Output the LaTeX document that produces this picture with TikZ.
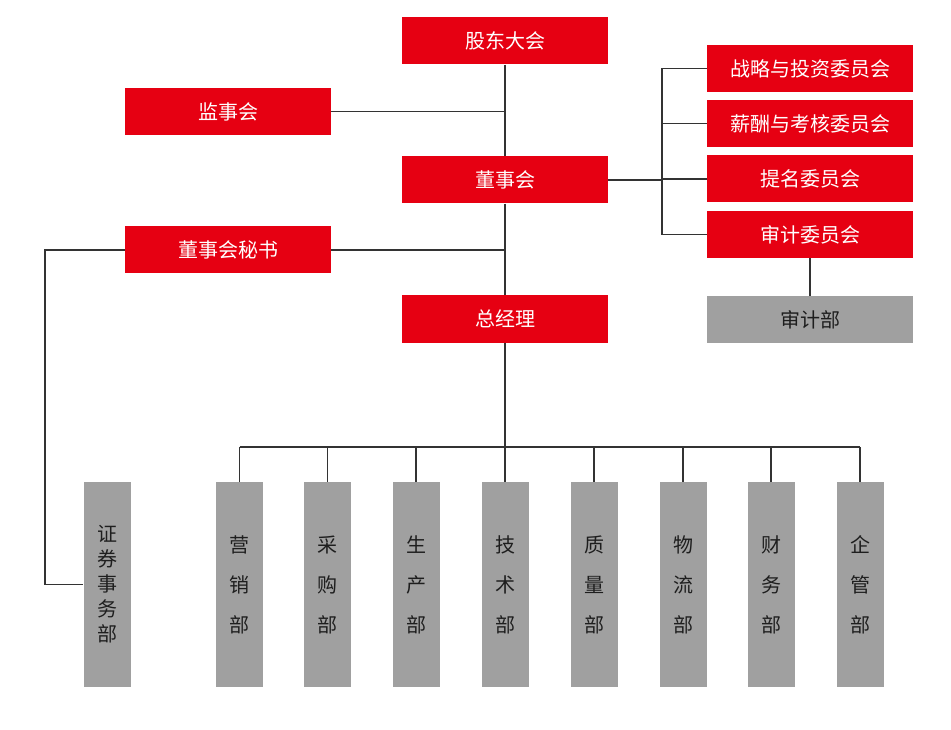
\documentclass[tikz,border=0pt]{standalone}
\usepackage{fontspec}
\newfontfamily\cjk{Noto Sans CJK SC}
\definecolor{boxred}{HTML}{E60012}
\definecolor{boxgray}{HTML}{A0A0A0}
\definecolor{linegray}{HTML}{333333}
\definecolor{txtdark}{HTML}{1E1E1E}
\begin{document}
\begin{tikzpicture}[x=1pt,y=-1pt,
  redbox/.style={fill=boxred,draw=none,minimum width=206pt,minimum height=47pt,inner sep=0pt,
    text=white,font=\cjk\fontsize{20}{20}\selectfont},
  graybox/.style={fill=boxgray,draw=none,minimum width=206pt,minimum height=47pt,inner sep=0pt,
    text=txtdark,font=\cjk\fontsize{20}{20}\selectfont},
  tallbox/.style={fill=boxgray,draw=none,minimum width=47pt,minimum height=205pt,inner sep=0pt,
    text=txtdark,align=center,font=\cjk\fontsize{20}{40}\selectfont},
  conn/.style={draw=linegray,line width=1.4pt}]
\useasboundingbox (0,0) rectangle (951,730);
\fill[white] (0,0) rectangle (951,730);
% top hierarchy
\node[redbox] (gd) at (505,41) {股东大会};
\node[redbox] (jsh) at (228,111.5) {监事会};
\node[redbox] (dsh) at (505,180) {董事会};
\node[redbox] (ms) at (228,250) {董事会秘书};
\node[redbox] (zjl) at (505,319) {总经理};
% committees
\node[redbox] (c1) at (810,68.5) {战略与投资委员会};
\node[redbox] (c2) at (810,123.5) {薪酬与考核委员会};
\node[redbox] (c3) at (810,179) {提名委员会};
\node[redbox] (c4) at (810,234.5) {审计委员会};
\node[graybox] (sjb) at (810,319.5) {审计部};
% departments
\node[tallbox,font=\cjk\fontsize{20}{25}\selectfont] (zq) at (107,584.5) {证\\券\\事\\务\\部};
\node[tallbox] (d1) at (239.5,584.5) {营\\销\\部};
\node[tallbox] (d2) at (327.5,584.5) {采\\购\\部};
\node[tallbox] (d3) at (416,584.5) {生\\产\\部};
\node[tallbox] (d4) at (505,584.5) {技\\术\\部};
\node[tallbox] (d5) at (594,584.5) {质\\量\\部};
\node[tallbox] (d6) at (683,584.5) {物\\流\\部};
\node[tallbox] (d7) at (771,584.5) {财\\务\\部};
\node[tallbox] (d8) at (860,584.5) {企\\管\\部};
% helper coordinates
\coordinate (rb) at (662,180);
\coordinate (lft) at (45,250);
\coordinate (bus) at (505,447);
% connectors
\draw[conn] (gd.south) -- (dsh.north);
\draw[conn] (jsh.east) -- (jsh.east -| gd.south);
\draw[conn] (dsh.south) -- (zjl.north);
\draw[conn] (ms.east) -- (ms.east -| dsh.south);
\draw[conn] (ms.west) -- (lft) |- (zq.west);
\draw[conn] (dsh.east) -- (rb);
\draw[conn] (c1.west) -| (rb);
\draw[conn] (c4.west) -| (rb);
\draw[conn] (c2.west) -- (c2.west -| rb);
\draw[conn] (c3.west) -- (c3.west -| rb);
\draw[conn] (c4.south) -- (sjb.north);
\draw[conn] (zjl.south) -- (bus);
\draw[conn] (d1.north |- bus) -- (d8.north |- bus);
\foreach \d in {d1,d2,d3,d4,d5,d6,d7,d8} {
  \draw[conn] (\d.north) -- (\d.north |- bus);
}
\end{tikzpicture}
\end{document}
